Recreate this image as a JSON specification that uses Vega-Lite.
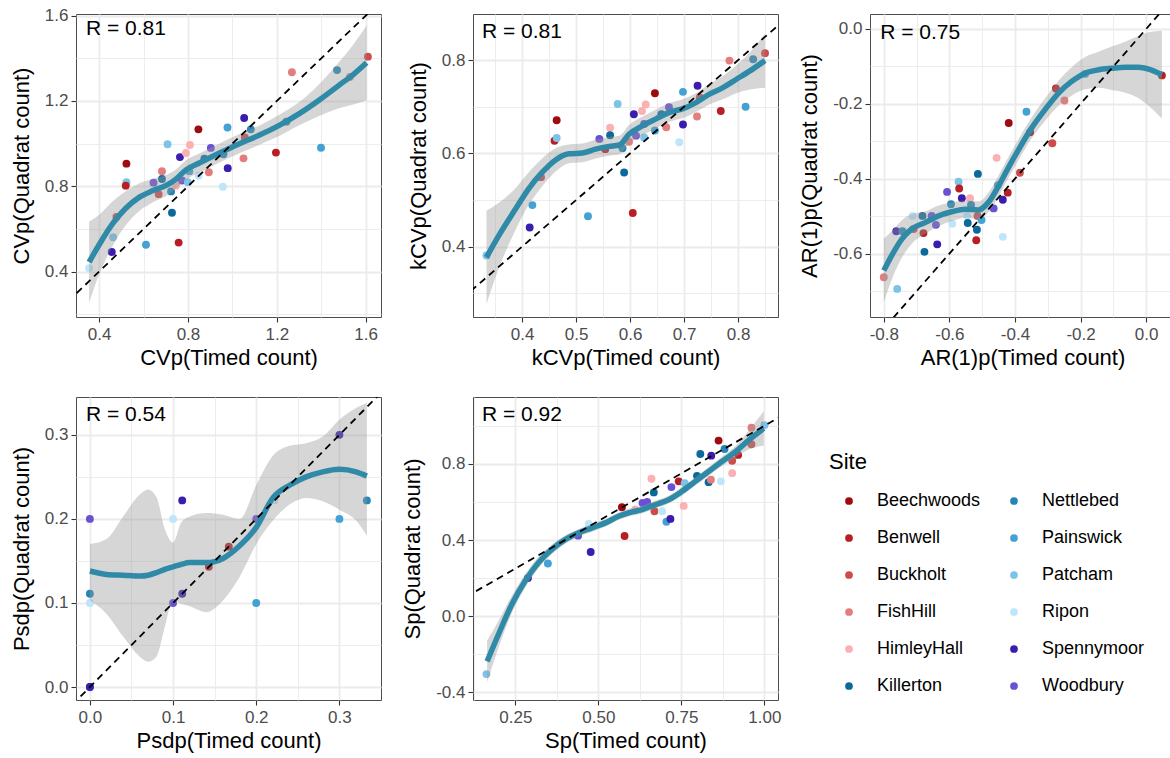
{
"$schema": "https://vega.github.io/schema/vega-lite/v6.json",
"background": "white",
"padding": {"left": 9, "top": 6, "right": 0, "bottom": 5},
"bounds": "flush",
"columns": 3,
"spacing": {"row": 80, "column": 92},
"datasets": {
"points": [
{"p":"CVp","site":"Ripon","x":0.355,"y":0.416},{"p":"CVp","site":"Spennymoor","x":0.457,"y":0.492},{"p":"CVp","site":"Patcham","x":0.463,"y":0.561},{"p":"CVp","site":"Buckholt","x":0.478,"y":0.656},{"p":"CVp","site":"Beechwoods","x":0.523,"y":0.906},{"p":"CVp","site":"Patcham","x":0.523,"y":0.819},{"p":"CVp","site":"Benwell","x":0.52,"y":0.803},{"p":"CVp","site":"Painswick","x":0.611,"y":0.526},{"p":"CVp","site":"Woodbury","x":0.645,"y":0.817},{"p":"CVp","site":"Buckholt","x":0.668,"y":0.763},{"p":"CVp","site":"FishHill","x":0.683,"y":0.871},{"p":"CVp","site":"Killerton","x":0.683,"y":0.834},{"p":"CVp","site":"Patcham","x":0.708,"y":0.997},{"p":"CVp","site":"Nettlebed","x":0.724,"y":0.776},{"p":"CVp","site":"Killerton","x":0.728,"y":0.676},{"p":"CVp","site":"HimleyHall","x":0.746,"y":0.803},{"p":"CVp","site":"Benwell","x":0.758,"y":0.536},{"p":"CVp","site":"Spennymoor","x":0.764,"y":0.937},{"p":"CVp","site":"Woodbury","x":0.773,"y":0.827},{"p":"CVp","site":"HimleyHall","x":0.791,"y":0.956},{"p":"CVp","site":"HimleyHall","x":0.809,"y":0.994},{"p":"CVp","site":"Painswick","x":0.806,"y":0.871},{"p":"CVp","site":"Patcham","x":0.799,"y":0.819},{"p":"CVp","site":"Beechwoods","x":0.847,"y":1.067},{"p":"CVp","site":"Ripon","x":0.848,"y":0.85},{"p":"CVp","site":"Killerton","x":0.874,"y":0.929},{"p":"CVp","site":"FishHill","x":0.894,"y":0.866},{"p":"CVp","site":"Woodbury","x":0.903,"y":0.98},{"p":"CVp","site":"Ripon","x":0.957,"y":0.798},{"p":"CVp","site":"Nettlebed","x":0.96,"y":0.95},{"p":"CVp","site":"Spennymoor","x":0.979,"y":0.885},{"p":"CVp","site":"Painswick","x":0.978,"y":1.076},{"p":"CVp","site":"FishHill","x":1.05,"y":0.931},{"p":"CVp","site":"Spennymoor","x":1.053,"y":1.12},{"p":"CVp","site":"Buckholt","x":1.056,"y":1.029},{"p":"CVp","site":"Nettlebed","x":1.083,"y":1.067},{"p":"CVp","site":"Benwell","x":1.196,"y":0.958},{"p":"CVp","site":"Nettlebed","x":1.243,"y":1.103},{"p":"CVp","site":"FishHill","x":1.268,"y":1.335},{"p":"CVp","site":"Painswick","x":1.399,"y":0.981},{"p":"CVp","site":"Nettlebed","x":1.471,"y":1.345},{"p":"CVp","site":"FishHill","x":1.529,"y":1.313},{"p":"CVp","site":"Buckholt","x":1.61,"y":1.408},
{"p":"kCVp","site":"Patcham","x":0.334,"y":0.381},{"p":"kCVp","site":"Spennymoor","x":0.414,"y":0.441},{"p":"kCVp","site":"Painswick","x":0.419,"y":0.489},{"p":"kCVp","site":"Buckholt","x":0.435,"y":0.549},{"p":"kCVp","site":"Benwell","x":0.46,"y":0.627},{"p":"kCVp","site":"Beechwoods","x":0.464,"y":0.671},{"p":"kCVp","site":"Patcham","x":0.464,"y":0.633},{"p":"kCVp","site":"Painswick","x":0.522,"y":0.465},{"p":"kCVp","site":"Woodbury","x":0.543,"y":0.631},{"p":"kCVp","site":"Benwell","x":0.554,"y":0.609},{"p":"kCVp","site":"HimleyHall","x":0.563,"y":0.655},{"p":"kCVp","site":"Killerton","x":0.563,"y":0.639},{"p":"kCVp","site":"Patcham","x":0.577,"y":0.706},{"p":"kCVp","site":"Nettlebed","x":0.586,"y":0.611},{"p":"kCVp","site":"Killerton","x":0.589,"y":0.559},{"p":"kCVp","site":"FishHill","x":0.598,"y":0.625},{"p":"kCVp","site":"Benwell","x":0.605,"y":0.472},{"p":"kCVp","site":"Spennymoor","x":0.607,"y":0.684},{"p":"kCVp","site":"Woodbury","x":0.611,"y":0.638},{"p":"kCVp","site":"HimleyHall","x":0.622,"y":0.691},{"p":"kCVp","site":"HimleyHall","x":0.629,"y":0.705},{"p":"kCVp","site":"Woodbury","x":0.626,"y":0.663},{"p":"kCVp","site":"Patcham","x":0.626,"y":0.634},{"p":"kCVp","site":"Beechwoods","x":0.646,"y":0.729},{"p":"kCVp","site":"Painswick","x":0.646,"y":0.649},{"p":"kCVp","site":"Killerton","x":0.658,"y":0.684},{"p":"kCVp","site":"FishHill","x":0.667,"y":0.656},{"p":"kCVp","site":"Woodbury","x":0.672,"y":0.699},{"p":"kCVp","site":"Ripon","x":0.691,"y":0.624},{"p":"kCVp","site":"Spennymoor","x":0.698,"y":0.662},{"p":"kCVp","site":"Painswick","x":0.698,"y":0.732},{"p":"kCVp","site":"FishHill","x":0.724,"y":0.679},{"p":"kCVp","site":"Spennymoor","x":0.725,"y":0.745},{"p":"kCVp","site":"Buckholt","x":0.729,"y":0.72},{"p":"kCVp","site":"Benwell","x":0.768,"y":0.691},{"p":"kCVp","site":"FishHill","x":0.784,"y":0.799},{"p":"kCVp","site":"Painswick","x":0.814,"y":0.7},{"p":"kCVp","site":"Nettlebed","x":0.828,"y":0.802},{"p":"kCVp","site":"Buckholt","x":0.85,"y":0.815},
{"p":"AR1p","site":"FishHill","x":-0.8,"y":-0.663},{"p":"AR1p","site":"Patcham","x":-0.759,"y":-0.694},{"p":"AR1p","site":"Spennymoor","x":-0.762,"y":-0.54},{"p":"AR1p","site":"Nettlebed","x":-0.743,"y":-0.54},{"p":"AR1p","site":"Ripon","x":-0.712,"y":-0.499},{"p":"AR1p","site":"Buckholt","x":-0.709,"y":-0.534},{"p":"AR1p","site":"Killerton","x":-0.682,"y":-0.499},{"p":"AR1p","site":"Benwell","x":-0.679,"y":-0.545},{"p":"AR1p","site":"Killerton","x":-0.676,"y":-0.595},{"p":"AR1p","site":"Woodbury","x":-0.654,"y":-0.499},{"p":"AR1p","site":"Woodbury","x":-0.641,"y":-0.523},{"p":"AR1p","site":"Spennymoor","x":-0.637,"y":-0.575},{"p":"AR1p","site":"Woodbury","x":-0.607,"y":-0.435},{"p":"AR1p","site":"Nettlebed","x":-0.595,"y":-0.468},{"p":"AR1p","site":"Ripon","x":-0.591,"y":-0.52},{"p":"AR1p","site":"Patcham","x":-0.572,"y":-0.408},{"p":"AR1p","site":"Benwell","x":-0.57,"y":-0.426},{"p":"AR1p","site":"Spennymoor","x":-0.562,"y":-0.452},{"p":"AR1p","site":"Ripon","x":-0.546,"y":-0.499},{"p":"AR1p","site":"Killerton","x":-0.544,"y":-0.518},{"p":"AR1p","site":"HimleyHall","x":-0.537,"y":-0.452},{"p":"AR1p","site":"Nettlebed","x":-0.534,"y":-0.47},{"p":"AR1p","site":"Benwell","x":-0.518,"y":-0.564},{"p":"AR1p","site":"Killerton","x":-0.516,"y":-0.536},{"p":"AR1p","site":"Killerton","x":-0.513,"y":-0.387},{"p":"AR1p","site":"Buckholt","x":-0.514,"y":-0.499},{"p":"AR1p","site":"Painswick","x":-0.502,"y":-0.51},{"p":"AR1p","site":"Woodbury","x":-0.465,"y":-0.479},{"p":"AR1p","site":"HimleyHall","x":-0.456,"y":-0.344},{"p":"AR1p","site":"Painswick","x":-0.452,"y":-0.417},{"p":"AR1p","site":"Ripon","x":-0.437,"y":-0.555},{"p":"AR1p","site":"Spennymoor","x":-0.437,"y":-0.456},{"p":"AR1p","site":"Benwell","x":-0.422,"y":-0.437},{"p":"AR1p","site":"Beechwoods","x":-0.419,"y":-0.251},{"p":"AR1p","site":"Buckholt","x":-0.385,"y":-0.384},{"p":"AR1p","site":"Painswick","x":-0.365,"y":-0.221},{"p":"AR1p","site":"Beechwoods","x":-0.354,"y":-0.276},{"p":"AR1p","site":"Buckholt","x":-0.286,"y":-0.305},{"p":"AR1p","site":"Benwell","x":-0.275,"y":-0.159},{"p":"AR1p","site":"FishHill","x":-0.249,"y":-0.191},{"p":"AR1p","site":"Painswick","x":-0.186,"y":-0.12},{"p":"AR1p","site":"Benwell","x":0.048,"y":-0.124},
{"p":"Psdp","site":"Woodbury","x":0,"y":0},{"p":"Psdp","site":"Spennymoor","x":0,"y":0},{"p":"Psdp","site":"Woodbury","x":0,"y":0.2},{"p":"Psdp","site":"Nettlebed","x":0,"y":0.111},{"p":"Psdp","site":"Ripon","x":0,"y":0.1},{"p":"Psdp","site":"Ripon","x":0.1,"y":0.2},{"p":"Psdp","site":"Woodbury","x":0.1,"y":0.1},{"p":"Psdp","site":"Spennymoor","x":0.111,"y":0.222},{"p":"Psdp","site":"Spennymoor","x":0.111,"y":0.111},{"p":"Psdp","site":"Benwell","x":0.143,"y":0.143},{"p":"Psdp","site":"Benwell","x":0.167,"y":0.167},{"p":"Psdp","site":"Woodbury","x":0.2,"y":0.2},{"p":"Psdp","site":"Painswick","x":0.2,"y":0.1},{"p":"Psdp","site":"Ripon","x":0.222,"y":0.222},{"p":"Psdp","site":"Spennymoor","x":0.3,"y":0.3},{"p":"Psdp","site":"Painswick","x":0.3,"y":0.2},{"p":"Psdp","site":"Nettlebed","x":0.333,"y":0.222},
{"p":"Sp","site":"Patcham","x":0.163,"y":-0.304},{"p":"Sp","site":"Spennymoor","x":0.288,"y":0.2},{"p":"Sp","site":"Painswick","x":0.348,"y":0.277},{"p":"Sp","site":"Woodbury","x":0.439,"y":0.423},{"p":"Sp","site":"Ripon","x":0.471,"y":0.485},{"p":"Sp","site":"Spennymoor","x":0.477,"y":0.337},{"p":"Sp","site":"Beechwoods","x":0.571,"y":0.572},{"p":"Sp","site":"Benwell","x":0.579,"y":0.421},{"p":"Sp","site":"HimleyHall","x":0.611,"y":0.56},{"p":"Sp","site":"Woodbury","x":0.633,"y":0.595},{"p":"Sp","site":"Woodbury","x":0.647,"y":0.6},{"p":"Sp","site":"HimleyHall","x":0.66,"y":0.722},{"p":"Sp","site":"Killerton","x":0.667,"y":0.65},{"p":"Sp","site":"Buckholt","x":0.669,"y":0.551},{"p":"Sp","site":"Ripon","x":0.692,"y":0.551},{"p":"Sp","site":"Painswick","x":0.705,"y":0.496},{"p":"Sp","site":"Spennymoor","x":0.717,"y":0.511},{"p":"Sp","site":"Woodbury","x":0.72,"y":0.678},{"p":"Sp","site":"Benwell","x":0.742,"y":0.708},{"p":"Sp","site":"HimleyHall","x":0.757,"y":0.579},{"p":"Sp","site":"Patcham","x":0.76,"y":0.699},{"p":"Sp","site":"Killerton","x":0.797,"y":0.737},{"p":"Sp","site":"Killerton","x":0.807,"y":0.852},{"p":"Sp","site":"Killerton","x":0.832,"y":0.704},{"p":"Sp","site":"FishHill","x":0.839,"y":0.717},{"p":"Sp","site":"Spennymoor","x":0.84,"y":0.843},{"p":"Sp","site":"Beechwoods","x":0.862,"y":0.922},{"p":"Sp","site":"Ripon","x":0.869,"y":0.708},{"p":"Sp","site":"Nettlebed","x":0.88,"y":0.878},{"p":"Sp","site":"Buckholt","x":0.903,"y":0.816},{"p":"Sp","site":"HimleyHall","x":0.903,"y":0.751},{"p":"Sp","site":"Benwell","x":0.921,"y":0.847},{"p":"Sp","site":"FishHill","x":0.961,"y":0.99},{"p":"Sp","site":"Buckholt","x":0.961,"y":0.903},{"p":"Sp","site":"Patcham","x":1.0,"y":1.003}
],
"smooth": [
{"p":"CVp","x":0.355,"y":0.444,"lo":0.254,"hi":0.634},{"p":"CVp","x":0.4,"y":0.526,"lo":0.386,"hi":0.666},{"p":"CVp","x":0.46,"y":0.624,"lo":0.519,"hi":0.729},{"p":"CVp","x":0.52,"y":0.697,"lo":0.617,"hi":0.777},{"p":"CVp","x":0.58,"y":0.748,"lo":0.683,"hi":0.813},{"p":"CVp","x":0.64,"y":0.779,"lo":0.724,"hi":0.834},{"p":"CVp","x":0.7,"y":0.803,"lo":0.753,"hi":0.853},{"p":"CVp","x":0.746,"y":0.834,"lo":0.789,"hi":0.879},{"p":"CVp","x":0.791,"y":0.877,"lo":0.832,"hi":0.922},{"p":"CVp","x":0.851,"y":0.909,"lo":0.864,"hi":0.954},{"p":"CVp","x":0.942,"y":0.956,"lo":0.911,"hi":1.001},{"p":"CVp","x":1.032,"y":1.0,"lo":0.955,"hi":1.045},{"p":"CVp","x":1.122,"y":1.04,"lo":0.995,"hi":1.085},{"p":"CVp","x":1.213,"y":1.087,"lo":1.037,"hi":1.137},{"p":"CVp","x":1.303,"y":1.142,"lo":1.087,"hi":1.197},{"p":"CVp","x":1.393,"y":1.206,"lo":1.131,"hi":1.281},{"p":"CVp","x":1.484,"y":1.277,"lo":1.167,"hi":1.387},{"p":"CVp","x":1.544,"y":1.324,"lo":1.184,"hi":1.464},{"p":"CVp","x":1.604,"y":1.379,"lo":1.204,"hi":1.554},
{"p":"kCVp","x":0.334,"y":0.377,"lo":0.277,"hi":0.477},{"p":"kCVp","x":0.357,"y":0.424,"lo":0.354,"hi":0.494},{"p":"kCVp","x":0.388,"y":0.481,"lo":0.436,"hi":0.526},{"p":"kCVp","x":0.412,"y":0.524,"lo":0.489,"hi":0.559},{"p":"kCVp","x":0.437,"y":0.559,"lo":0.529,"hi":0.589},{"p":"kCVp","x":0.462,"y":0.586,"lo":0.561,"hi":0.611},{"p":"kCVp","x":0.487,"y":0.599,"lo":0.579,"hi":0.619},{"p":"kCVp","x":0.512,"y":0.601,"lo":0.581,"hi":0.621},{"p":"kCVp","x":0.536,"y":0.609,"lo":0.589,"hi":0.629},{"p":"kCVp","x":0.561,"y":0.615,"lo":0.595,"hi":0.635},{"p":"kCVp","x":0.58,"y":0.618,"lo":0.598,"hi":0.638},{"p":"kCVp","x":0.598,"y":0.641,"lo":0.621,"hi":0.661},{"p":"kCVp","x":0.623,"y":0.659,"lo":0.639,"hi":0.679},{"p":"kCVp","x":0.648,"y":0.674,"lo":0.654,"hi":0.694},{"p":"kCVp","x":0.673,"y":0.688,"lo":0.668,"hi":0.708},{"p":"kCVp","x":0.698,"y":0.696,"lo":0.676,"hi":0.716},{"p":"kCVp","x":0.722,"y":0.709,"lo":0.689,"hi":0.729},{"p":"kCVp","x":0.747,"y":0.727,"lo":0.705,"hi":0.749},{"p":"kCVp","x":0.772,"y":0.741,"lo":0.716,"hi":0.766},{"p":"kCVp","x":0.797,"y":0.759,"lo":0.729,"hi":0.789},{"p":"kCVp","x":0.822,"y":0.777,"lo":0.737,"hi":0.817},{"p":"kCVp","x":0.85,"y":0.799,"lo":0.741,"hi":0.857},
{"p":"AR1p","x":-0.8,"y":-0.645,"lo":-0.73,"hi":-0.56},{"p":"AR1p","x":-0.776,"y":-0.605,"lo":-0.67,"hi":-0.54},{"p":"AR1p","x":-0.745,"y":-0.561,"lo":-0.611,"hi":-0.511},{"p":"AR1p","x":-0.715,"y":-0.534,"lo":-0.574,"hi":-0.494},{"p":"AR1p","x":-0.674,"y":-0.517,"lo":-0.547,"hi":-0.487},{"p":"AR1p","x":-0.633,"y":-0.499,"lo":-0.527,"hi":-0.471},{"p":"AR1p","x":-0.593,"y":-0.488,"lo":-0.513,"hi":-0.463},{"p":"AR1p","x":-0.552,"y":-0.481,"lo":-0.504,"hi":-0.458},{"p":"AR1p","x":-0.511,"y":-0.483,"lo":-0.506,"hi":-0.46},{"p":"AR1p","x":-0.481,"y":-0.463,"lo":-0.489,"hi":-0.437},{"p":"AR1p","x":-0.45,"y":-0.419,"lo":-0.447,"hi":-0.391},{"p":"AR1p","x":-0.42,"y":-0.37,"lo":-0.398,"hi":-0.342},{"p":"AR1p","x":-0.389,"y":-0.322,"lo":-0.35,"hi":-0.294},{"p":"AR1p","x":-0.349,"y":-0.264,"lo":-0.292,"hi":-0.236},{"p":"AR1p","x":-0.308,"y":-0.215,"lo":-0.245,"hi":-0.185},{"p":"AR1p","x":-0.267,"y":-0.171,"lo":-0.204,"hi":-0.138},{"p":"AR1p","x":-0.227,"y":-0.14,"lo":-0.178,"hi":-0.102},{"p":"AR1p","x":-0.186,"y":-0.118,"lo":-0.161,"hi":-0.075},{"p":"AR1p","x":-0.145,"y":-0.109,"lo":-0.157,"hi":-0.061},{"p":"AR1p","x":-0.105,"y":-0.105,"lo":-0.163,"hi":-0.047},{"p":"AR1p","x":-0.064,"y":-0.102,"lo":-0.17,"hi":-0.034},{"p":"AR1p","x":-0.023,"y":-0.102,"lo":-0.185,"hi":-0.019},{"p":"AR1p","x":0.007,"y":-0.107,"lo":-0.205,"hi":-0.009},{"p":"AR1p","x":0.048,"y":-0.122,"lo":-0.239,"hi":-0.005},
{"p":"Psdp","x":0.0,"y":0.138,"lo":0.103,"hi":0.17},{"p":"Psdp","x":0.02,"y":0.134,"lo":0.087,"hi":0.176},{"p":"Psdp","x":0.04,"y":0.133,"lo":0.06,"hi":0.203},{"p":"Psdp","x":0.06,"y":0.132,"lo":0.036,"hi":0.229},{"p":"Psdp","x":0.07,"y":0.133,"lo":0.03,"hi":0.235},{"p":"Psdp","x":0.08,"y":0.136,"lo":0.036,"hi":0.226},{"p":"Psdp","x":0.09,"y":0.14,"lo":0.071,"hi":0.188},{"p":"Psdp","x":0.1,"y":0.143,"lo":0.103,"hi":0.172},{"p":"Psdp","x":0.11,"y":0.146,"lo":0.099,"hi":0.196},{"p":"Psdp","x":0.12,"y":0.148,"lo":0.096,"hi":0.203},{"p":"Psdp","x":0.14,"y":0.148,"lo":0.089,"hi":0.207},{"p":"Psdp","x":0.16,"y":0.153,"lo":0.103,"hi":0.205},{"p":"Psdp","x":0.18,"y":0.168,"lo":0.131,"hi":0.2},{"p":"Psdp","x":0.2,"y":0.19,"lo":0.17,"hi":0.24},{"p":"Psdp","x":0.22,"y":0.225,"lo":0.198,"hi":0.275},{"p":"Psdp","x":0.24,"y":0.24,"lo":0.217,"hi":0.287},{"p":"Psdp","x":0.26,"y":0.25,"lo":0.225,"hi":0.29},{"p":"Psdp","x":0.28,"y":0.256,"lo":0.221,"hi":0.298},{"p":"Psdp","x":0.3,"y":0.259,"lo":0.211,"hi":0.318},{"p":"Psdp","x":0.32,"y":0.256,"lo":0.198,"hi":0.332},{"p":"Psdp","x":0.333,"y":0.251,"lo":0.18,"hi":0.338},
{"p":"Sp","x":0.165,"y":-0.237,"lo":-0.347,"hi":-0.127},{"p":"Sp","x":0.2,"y":-0.092,"lo":-0.162,"hi":-0.022},{"p":"Sp","x":0.24,"y":0.064,"lo":0.019,"hi":0.109},{"p":"Sp","x":0.28,"y":0.186,"lo":0.151,"hi":0.221},{"p":"Sp","x":0.32,"y":0.282,"lo":0.252,"hi":0.312},{"p":"Sp","x":0.36,"y":0.351,"lo":0.326,"hi":0.376},{"p":"Sp","x":0.401,"y":0.403,"lo":0.381,"hi":0.425},{"p":"Sp","x":0.441,"y":0.438,"lo":0.418,"hi":0.458},{"p":"Sp","x":0.481,"y":0.464,"lo":0.444,"hi":0.484},{"p":"Sp","x":0.521,"y":0.49,"lo":0.47,"hi":0.51},{"p":"Sp","x":0.561,"y":0.525,"lo":0.505,"hi":0.545},{"p":"Sp","x":0.591,"y":0.543,"lo":0.523,"hi":0.563},{"p":"Sp","x":0.632,"y":0.56,"lo":0.54,"hi":0.58},{"p":"Sp","x":0.672,"y":0.586,"lo":0.566,"hi":0.606},{"p":"Sp","x":0.712,"y":0.612,"lo":0.592,"hi":0.632},{"p":"Sp","x":0.752,"y":0.656,"lo":0.634,"hi":0.678},{"p":"Sp","x":0.792,"y":0.708,"lo":0.686,"hi":0.73},{"p":"Sp","x":0.832,"y":0.76,"lo":0.738,"hi":0.782},{"p":"Sp","x":0.872,"y":0.812,"lo":0.787,"hi":0.837},{"p":"Sp","x":0.913,"y":0.864,"lo":0.834,"hi":0.894},{"p":"Sp","x":0.953,"y":0.925,"lo":0.875,"hi":0.975},{"p":"Sp","x":0.998,"y":0.986,"lo":0.896,"hi":1.076}
],
"diag": [{"x": -2, "y": -2}, {"x": 3, "y": 3}],
"rlab": [{"p":"CVp","label":"R = 0.81"},{"p":"kCVp","label":"R = 0.81"},{"p":"AR1p","label":"R = 0.75"},{"p":"Psdp","label":"R = 0.54"},{"p":"Sp","label":"R = 0.92"}]
},
"concat": [
{
"width": 305, "height": 303,
"layer": [
{"data": {"name": "points"}, "transform": [{"filter": "datum.p == 'CVp'"}], "mark": {"type": "circle", "size": 62, "opacity": 1, "clip": true},
 "encoding": {
  "x": {"field": "x", "type": "quantitative", "title": "CVp(Timed count)", "scale": {"domain": [0.296, 1.669], "nice": false, "zero": false},
   "axis": {"tickCount": 40, "values": [0.4,0.6,0.8,1.0,1.2,1.4,1.6], "labelExpr": "indexof([0.4,0.8,1.2,1.6], datum.value) >= 0 ? replace(format(datum.value, '.1f'), '\u2212', '-') : ''",
    "gridWidth": {"condition": {"test": "indexof([0.4,0.8,1.2,1.6], datum.value) >= 0", "value": 1.8}, "value": 0.9},
    "tickOpacity": {"condition": {"test": "indexof([0.4,0.8,1.2,1.6], datum.value) >= 0", "value": 1}, "value": 0}}},
  "y": {"field": "y", "type": "quantitative", "title": "CVp(Quadrat count)", "scale": {"domain": [0.187, 1.608], "nice": false, "zero": false},
   "axis": {"tickCount": 40, "values": [0.2,0.4,0.6,0.8,1.0,1.2,1.4,1.6], "labelExpr": "indexof([0.4,0.8,1.2,1.6], datum.value) >= 0 ? replace(format(datum.value, '.1f'), '\u2212', '-') : ''",
    "gridWidth": {"condition": {"test": "indexof([0.4,0.8,1.2,1.6], datum.value) >= 0", "value": 1.8}, "value": 0.9},
    "tickOpacity": {"condition": {"test": "indexof([0.4,0.8,1.2,1.6], datum.value) >= 0", "value": 1}, "value": 0}}},
  "color": {"field": "site", "type": "nominal",
   "scale": {"domain": ["Beechwoods","Benwell","Buckholt","FishHill","HimleyHall","Killerton","Nettlebed","Painswick","Patcham","Ripon","Spennymoor","Woodbury"], "range": ["#9E0B0F","#B81F24","#CE4B4B","#E47D7E","#FBB1B4","#0C6A9B","#2585B5","#43A2D3","#7DC3E9","#BDE6FB","#3A1CAF","#6B4FD5"]},
   "legend": {"title": "Site", "orient": "none", "legendX": 753, "legendY": 438, "columns": 2, "symbolSize": 60, "symbolType": "circle", "symbolOpacity": 1, "labelFontSize": 18, "titleFontSize": 22, "titleFontWeight": "normal", "rowPadding": 19, "columnPadding": 13, "labelOffset": 19, "symbolOffset": 11, "titlePadding": 18, "labelColor": "#000000", "titleColor": "#000000"}}}},
{"data": {"name": "smooth"}, "transform": [{"filter": "datum.p == 'CVp'"}], "mark": {"type": "area", "color": "#999999", "opacity": 0.4, "interpolate": "monotone", "clip": true},
 "encoding": {"x": {"field": "x", "type": "quantitative", "title": "CVp(Timed count)", "scale": {"domain": [0.296, 1.669], "nice": false, "zero": false}},
  "y": {"field": "lo", "type": "quantitative", "title": "CVp(Quadrat count)", "scale": {"domain": [0.187, 1.608], "nice": false, "zero": false}}, "y2": {"field": "hi"}}},
{"data": {"name": "smooth"}, "transform": [{"filter": "datum.p == 'CVp'"}], "mark": {"type": "line", "color": "#2F8AA8", "strokeWidth": 5.5, "interpolate": "monotone", "clip": true},
 "encoding": {"x": {"field": "x", "type": "quantitative", "title": "CVp(Timed count)", "scale": {"domain": [0.296, 1.669], "nice": false, "zero": false}},
  "y": {"field": "y", "type": "quantitative", "title": "CVp(Quadrat count)", "scale": {"domain": [0.187, 1.608], "nice": false, "zero": false}}}},
{"data": {"name": "diag"}, "mark": {"type": "line", "color": "#000000", "strokeWidth": 1.8, "strokeDash": [7, 5], "clip": true},
 "encoding": {"x": {"field": "x", "type": "quantitative", "title": "CVp(Timed count)", "scale": {"domain": [0.296, 1.669], "nice": false, "zero": false}},
  "y": {"field": "y", "type": "quantitative", "title": "CVp(Quadrat count)", "scale": {"domain": [0.187, 1.608], "nice": false, "zero": false}}}},
{"data": {"name": "rlab"}, "transform": [{"filter": "datum.p == 'CVp'"}], "mark": {"type": "text", "align": "left", "baseline": "middle", "fontSize": 21, "color": "#000000"},
 "encoding": {"x": {"datum": 0.341, "type": "quantitative", "title": "CVp(Timed count)", "scale": {"domain": [0.296, 1.669], "nice": false, "zero": false}},
  "y": {"datum": 1.537, "type": "quantitative", "title": "CVp(Quadrat count)", "scale": {"domain": [0.187, 1.608], "nice": false, "zero": false}}, "text": {"field": "label"}}}
]
},
{
"width": 305, "height": 303,
"layer": [
{"data": {"name": "points"}, "transform": [{"filter": "datum.p == 'kCVp'"}], "mark": {"type": "circle", "size": 62, "opacity": 1, "clip": true},
 "encoding": {
  "x": {"field": "x", "type": "quantitative", "title": "kCVp(Timed count)", "scale": {"domain": [0.309, 0.874], "nice": false, "zero": false},
   "axis": {"tickCount": 40, "values": [0.35,0.4,0.45,0.5,0.55,0.6,0.65,0.7,0.75,0.8,0.85], "labelExpr": "indexof([0.4,0.5,0.6,0.7,0.8], datum.value) >= 0 ? replace(format(datum.value, '.1f'), '\u2212', '-') : ''",
    "gridWidth": {"condition": {"test": "indexof([0.4,0.5,0.6,0.7,0.8], datum.value) >= 0", "value": 1.8}, "value": 0.9},
    "tickOpacity": {"condition": {"test": "indexof([0.4,0.5,0.6,0.7,0.8], datum.value) >= 0", "value": 1}, "value": 0}}},
  "y": {"field": "y", "type": "quantitative", "title": "kCVp(Quadrat count)", "scale": {"domain": [0.249, 0.899], "nice": false, "zero": false},
   "axis": {"tickCount": 40, "values": [0.3,0.4,0.5,0.6,0.7,0.8], "labelExpr": "indexof([0.4,0.6,0.8], datum.value) >= 0 ? replace(format(datum.value, '.1f'), '\u2212', '-') : ''",
    "gridWidth": {"condition": {"test": "indexof([0.4,0.6,0.8], datum.value) >= 0", "value": 1.8}, "value": 0.9},
    "tickOpacity": {"condition": {"test": "indexof([0.4,0.6,0.8], datum.value) >= 0", "value": 1}, "value": 0}}},
  "color": {"field": "site", "type": "nominal"}}},
{"data": {"name": "smooth"}, "transform": [{"filter": "datum.p == 'kCVp'"}], "mark": {"type": "area", "color": "#999999", "opacity": 0.4, "interpolate": "monotone", "clip": true},
 "encoding": {"x": {"field": "x", "type": "quantitative", "title": "kCVp(Timed count)", "scale": {"domain": [0.309, 0.874], "nice": false, "zero": false}},
  "y": {"field": "lo", "type": "quantitative", "title": "kCVp(Quadrat count)", "scale": {"domain": [0.249, 0.899], "nice": false, "zero": false}}, "y2": {"field": "hi"}}},
{"data": {"name": "smooth"}, "transform": [{"filter": "datum.p == 'kCVp'"}], "mark": {"type": "line", "color": "#2F8AA8", "strokeWidth": 5.5, "interpolate": "monotone", "clip": true},
 "encoding": {"x": {"field": "x", "type": "quantitative", "title": "kCVp(Timed count)", "scale": {"domain": [0.309, 0.874], "nice": false, "zero": false}},
  "y": {"field": "y", "type": "quantitative", "title": "kCVp(Quadrat count)", "scale": {"domain": [0.249, 0.899], "nice": false, "zero": false}}}},
{"data": {"name": "diag"}, "mark": {"type": "line", "color": "#000000", "strokeWidth": 1.8, "strokeDash": [7, 5], "clip": true},
 "encoding": {"x": {"field": "x", "type": "quantitative", "title": "kCVp(Timed count)", "scale": {"domain": [0.309, 0.874], "nice": false, "zero": false}},
  "y": {"field": "y", "type": "quantitative", "title": "kCVp(Quadrat count)", "scale": {"domain": [0.249, 0.899], "nice": false, "zero": false}}}},
{"data": {"name": "rlab"}, "transform": [{"filter": "datum.p == 'kCVp'"}], "mark": {"type": "text", "align": "left", "baseline": "middle", "fontSize": 21, "color": "#000000"},
 "encoding": {"x": {"datum": 0.3256, "type": "quantitative", "title": "kCVp(Timed count)", "scale": {"domain": [0.309, 0.874], "nice": false, "zero": false}},
  "y": {"datum": 0.861, "type": "quantitative", "title": "kCVp(Quadrat count)", "scale": {"domain": [0.249, 0.899], "nice": false, "zero": false}}, "text": {"field": "label"}}}
]
},
{
"width": 305, "height": 303,
"layer": [
{"data": {"name": "points"}, "transform": [{"filter": "datum.p == 'AR1p'"}], "mark": {"type": "circle", "size": 62, "opacity": 1, "clip": true},
 "encoding": {
  "x": {"field": "x", "type": "quantitative", "title": "AR(1)p(Timed count)", "scale": {"domain": [-0.842, 0.088], "nice": false, "zero": false},
   "axis": {"tickCount": 40, "values": [-0.8,-0.7,-0.6,-0.5,-0.4,-0.3,-0.2,-0.1,0], "labelExpr": "indexof([-0.8,-0.6,-0.4,-0.2,0], datum.value) >= 0 ? replace(format(datum.value, '.1f'), '\u2212', '-') : ''",
    "gridWidth": {"condition": {"test": "indexof([-0.8,-0.6,-0.4,-0.2,0], datum.value) >= 0", "value": 1.8}, "value": 0.9},
    "tickOpacity": {"condition": {"test": "indexof([-0.8,-0.6,-0.4,-0.2,0], datum.value) >= 0", "value": 1}, "value": 0}}},
  "y": {"field": "y", "type": "quantitative", "title": "AR(1)p(Quadrat count)", "scale": {"domain": [-0.769, 0.04], "nice": false, "zero": false},
   "axis": {"tickCount": 40, "values": [-0.7,-0.6,-0.5,-0.4,-0.3,-0.2,-0.1,0], "labelExpr": "indexof([-0.6,-0.4,-0.2,0], datum.value) >= 0 ? replace(format(datum.value, '.1f'), '\u2212', '-') : ''",
    "gridWidth": {"condition": {"test": "indexof([-0.6,-0.4,-0.2,0], datum.value) >= 0", "value": 1.8}, "value": 0.9},
    "tickOpacity": {"condition": {"test": "indexof([-0.6,-0.4,-0.2,0], datum.value) >= 0", "value": 1}, "value": 0}}},
  "color": {"field": "site", "type": "nominal"}}},
{"data": {"name": "smooth"}, "transform": [{"filter": "datum.p == 'AR1p'"}], "mark": {"type": "area", "color": "#999999", "opacity": 0.4, "interpolate": "monotone", "clip": true},
 "encoding": {"x": {"field": "x", "type": "quantitative", "title": "AR(1)p(Timed count)", "scale": {"domain": [-0.842, 0.088], "nice": false, "zero": false}},
  "y": {"field": "lo", "type": "quantitative", "title": "AR(1)p(Quadrat count)", "scale": {"domain": [-0.769, 0.04], "nice": false, "zero": false}}, "y2": {"field": "hi"}}},
{"data": {"name": "smooth"}, "transform": [{"filter": "datum.p == 'AR1p'"}], "mark": {"type": "line", "color": "#2F8AA8", "strokeWidth": 5.5, "interpolate": "monotone", "clip": true},
 "encoding": {"x": {"field": "x", "type": "quantitative", "title": "AR(1)p(Timed count)", "scale": {"domain": [-0.842, 0.088], "nice": false, "zero": false}},
  "y": {"field": "y", "type": "quantitative", "title": "AR(1)p(Quadrat count)", "scale": {"domain": [-0.769, 0.04], "nice": false, "zero": false}}}},
{"data": {"name": "diag"}, "mark": {"type": "line", "color": "#000000", "strokeWidth": 1.8, "strokeDash": [7, 5], "clip": true},
 "encoding": {"x": {"field": "x", "type": "quantitative", "title": "AR(1)p(Timed count)", "scale": {"domain": [-0.842, 0.088], "nice": false, "zero": false}},
  "y": {"field": "y", "type": "quantitative", "title": "AR(1)p(Quadrat count)", "scale": {"domain": [-0.769, 0.04], "nice": false, "zero": false}}}},
{"data": {"name": "rlab"}, "transform": [{"filter": "datum.p == 'AR1p'"}], "mark": {"type": "text", "align": "left", "baseline": "middle", "fontSize": 21, "color": "#000000"},
 "encoding": {"x": {"datum": -0.811, "type": "quantitative", "title": "AR(1)p(Timed count)", "scale": {"domain": [-0.842, 0.088], "nice": false, "zero": false}},
  "y": {"datum": -0.0097, "type": "quantitative", "title": "AR(1)p(Quadrat count)", "scale": {"domain": [-0.769, 0.04], "nice": false, "zero": false}}, "text": {"field": "label"}}}
]
},
{
"width": 305, "height": 303,
"layer": [
{"data": {"name": "points"}, "transform": [{"filter": "datum.p == 'Psdp'"}], "mark": {"type": "circle", "size": 62, "opacity": 1, "clip": true},
 "encoding": {
  "x": {"field": "x", "type": "quantitative", "title": "Psdp(Timed count)", "scale": {"domain": [-0.0167, 0.35], "nice": false, "zero": false},
   "axis": {"tickCount": 40, "values": [0,0.05,0.1,0.15,0.2,0.25,0.3], "labelExpr": "indexof([0,0.1,0.2,0.3], datum.value) >= 0 ? replace(format(datum.value, '.1f'), '\u2212', '-') : ''",
    "gridWidth": {"condition": {"test": "indexof([0,0.1,0.2,0.3], datum.value) >= 0", "value": 1.8}, "value": 0.9},
    "tickOpacity": {"condition": {"test": "indexof([0,0.1,0.2,0.3], datum.value) >= 0", "value": 1}, "value": 0}}},
  "y": {"field": "y", "type": "quantitative", "title": "Psdp(Quadrat count)", "scale": {"domain": [-0.0154, 0.345], "nice": false, "zero": false},
   "axis": {"tickCount": 40, "values": [0,0.05,0.1,0.15,0.2,0.25,0.3], "labelExpr": "indexof([0,0.1,0.2,0.3], datum.value) >= 0 ? replace(format(datum.value, '.1f'), '\u2212', '-') : ''",
    "gridWidth": {"condition": {"test": "indexof([0,0.1,0.2,0.3], datum.value) >= 0", "value": 1.8}, "value": 0.9},
    "tickOpacity": {"condition": {"test": "indexof([0,0.1,0.2,0.3], datum.value) >= 0", "value": 1}, "value": 0}}},
  "color": {"field": "site", "type": "nominal"}}},
{"data": {"name": "smooth"}, "transform": [{"filter": "datum.p == 'Psdp'"}], "mark": {"type": "area", "color": "#999999", "opacity": 0.4, "interpolate": "monotone", "clip": true},
 "encoding": {"x": {"field": "x", "type": "quantitative", "title": "Psdp(Timed count)", "scale": {"domain": [-0.0167, 0.35], "nice": false, "zero": false}},
  "y": {"field": "lo", "type": "quantitative", "title": "Psdp(Quadrat count)", "scale": {"domain": [-0.0154, 0.345], "nice": false, "zero": false}}, "y2": {"field": "hi"}}},
{"data": {"name": "smooth"}, "transform": [{"filter": "datum.p == 'Psdp'"}], "mark": {"type": "line", "color": "#2F8AA8", "strokeWidth": 5.5, "interpolate": "monotone", "clip": true},
 "encoding": {"x": {"field": "x", "type": "quantitative", "title": "Psdp(Timed count)", "scale": {"domain": [-0.0167, 0.35], "nice": false, "zero": false}},
  "y": {"field": "y", "type": "quantitative", "title": "Psdp(Quadrat count)", "scale": {"domain": [-0.0154, 0.345], "nice": false, "zero": false}}}},
{"data": {"name": "diag"}, "mark": {"type": "line", "color": "#000000", "strokeWidth": 1.8, "strokeDash": [7, 5], "clip": true},
 "encoding": {"x": {"field": "x", "type": "quantitative", "title": "Psdp(Timed count)", "scale": {"domain": [-0.0167, 0.35], "nice": false, "zero": false}},
  "y": {"field": "y", "type": "quantitative", "title": "Psdp(Quadrat count)", "scale": {"domain": [-0.0154, 0.345], "nice": false, "zero": false}}}},
{"data": {"name": "rlab"}, "transform": [{"filter": "datum.p == 'Psdp'"}], "mark": {"type": "text", "align": "left", "baseline": "middle", "fontSize": 21, "color": "#000000"},
 "encoding": {"x": {"datum": -0.0048, "type": "quantitative", "title": "Psdp(Timed count)", "scale": {"domain": [-0.0167, 0.35], "nice": false, "zero": false}},
  "y": {"datum": 0.3237, "type": "quantitative", "title": "Psdp(Quadrat count)", "scale": {"domain": [-0.0154, 0.345], "nice": false, "zero": false}}, "text": {"field": "label"}}}
]
},
{
"width": 305, "height": 303,
"layer": [
{"data": {"name": "points"}, "transform": [{"filter": "datum.p == 'Sp'"}], "mark": {"type": "circle", "size": 62, "opacity": 1, "clip": true},
 "encoding": {
  "x": {"field": "x", "type": "quantitative", "title": "Sp(Timed count)", "scale": {"domain": [0.1225, 1.041], "nice": false, "zero": false},
   "axis": {"tickCount": 40, "values": [0.125,0.25,0.375,0.5,0.625,0.75,0.875,1], "labelExpr": "indexof([0.25,0.5,0.75,1], datum.value) >= 0 ? replace(format(datum.value, '.2f'), '\u2212', '-') : ''",
    "gridWidth": {"condition": {"test": "indexof([0.25,0.5,0.75,1], datum.value) >= 0", "value": 1.8}, "value": 0.9},
    "tickOpacity": {"condition": {"test": "indexof([0.25,0.5,0.75,1], datum.value) >= 0", "value": 1}, "value": 0}}},
  "y": {"field": "y", "type": "quantitative", "title": "Sp(Quadrat count)", "scale": {"domain": [-0.44, 1.151], "nice": false, "zero": false},
   "axis": {"tickCount": 40, "values": [-0.4,-0.2,0,0.2,0.4,0.6,0.8,1.0], "labelExpr": "indexof([-0.4,0,0.4,0.8], datum.value) >= 0 ? replace(format(datum.value, '.1f'), '\u2212', '-') : ''",
    "gridWidth": {"condition": {"test": "indexof([-0.4,0,0.4,0.8], datum.value) >= 0", "value": 1.8}, "value": 0.9},
    "tickOpacity": {"condition": {"test": "indexof([-0.4,0,0.4,0.8], datum.value) >= 0", "value": 1}, "value": 0}}},
  "color": {"field": "site", "type": "nominal"}}},
{"data": {"name": "smooth"}, "transform": [{"filter": "datum.p == 'Sp'"}], "mark": {"type": "area", "color": "#999999", "opacity": 0.4, "interpolate": "monotone", "clip": true},
 "encoding": {"x": {"field": "x", "type": "quantitative", "title": "Sp(Timed count)", "scale": {"domain": [0.1225, 1.041], "nice": false, "zero": false}},
  "y": {"field": "lo", "type": "quantitative", "title": "Sp(Quadrat count)", "scale": {"domain": [-0.44, 1.151], "nice": false, "zero": false}}, "y2": {"field": "hi"}}},
{"data": {"name": "smooth"}, "transform": [{"filter": "datum.p == 'Sp'"}], "mark": {"type": "line", "color": "#2F8AA8", "strokeWidth": 5.5, "interpolate": "monotone", "clip": true},
 "encoding": {"x": {"field": "x", "type": "quantitative", "title": "Sp(Timed count)", "scale": {"domain": [0.1225, 1.041], "nice": false, "zero": false}},
  "y": {"field": "y", "type": "quantitative", "title": "Sp(Quadrat count)", "scale": {"domain": [-0.44, 1.151], "nice": false, "zero": false}}}},
{"data": {"name": "diag"}, "mark": {"type": "line", "color": "#000000", "strokeWidth": 1.8, "strokeDash": [7, 5], "clip": true},
 "encoding": {"x": {"field": "x", "type": "quantitative", "title": "Sp(Timed count)", "scale": {"domain": [0.1225, 1.041], "nice": false, "zero": false}},
  "y": {"field": "y", "type": "quantitative", "title": "Sp(Quadrat count)", "scale": {"domain": [-0.44, 1.151], "nice": false, "zero": false}}}},
{"data": {"name": "rlab"}, "transform": [{"filter": "datum.p == 'Sp'"}], "mark": {"type": "text", "align": "left", "baseline": "middle", "fontSize": 21, "color": "#000000"},
 "encoding": {"x": {"datum": 0.1496, "type": "quantitative", "title": "Sp(Timed count)", "scale": {"domain": [0.1225, 1.041], "nice": false, "zero": false}},
  "y": {"datum": 1.0557, "type": "quantitative", "title": "Sp(Quadrat count)", "scale": {"domain": [-0.44, 1.151], "nice": false, "zero": false}}, "text": {"field": "label"}}}
]
}
],
"config": {
"font": "Liberation Sans",
"view": {"stroke": "#4D4D4D", "strokeWidth": 1},
"axis": {"domain": false, "tickCount": 40, "tickColor": "#333333", "tickSize": 5, "tickWidth": 1.1, "labelFontSize": 17, "labelColor": "#4D4D4D", "titleFontSize": 22, "titleFontWeight": "normal", "titleColor": "#000000", "gridColor": "#EBEBEB", "labelFlush": false, "labelOverlap": false, "labelFont": "Liberation Sans", "titleFont": "Liberation Sans"},
"axisX": {"labelPadding": 4, "titlePadding": 5},
"axisY": {"labelPadding": 3, "titlePadding": 11},
"legend": {"labelFont": "Liberation Sans", "titleFont": "Liberation Sans"}
}
}
